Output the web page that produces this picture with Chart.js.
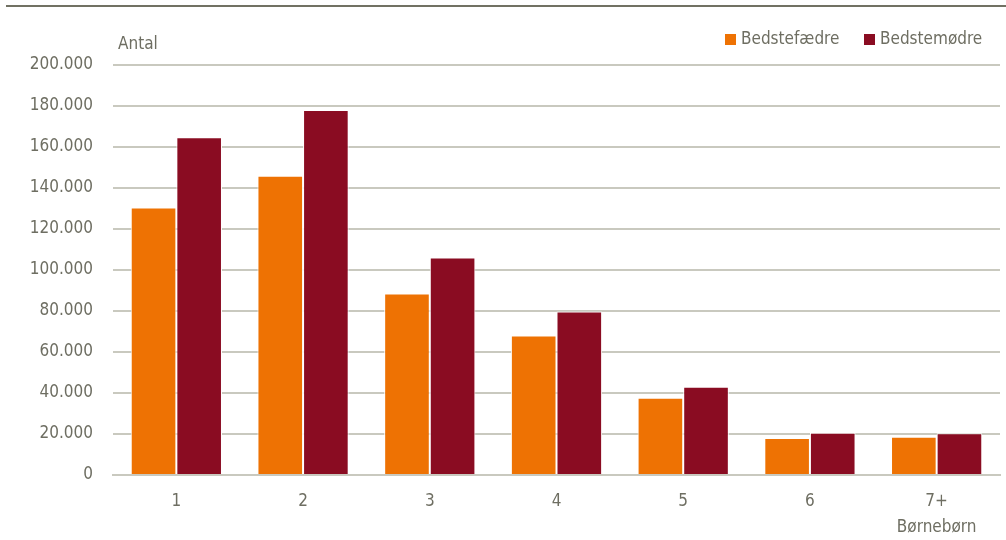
<!DOCTYPE html>
<html>
<head>
<meta charset="utf-8">
<script src="https://cdn.jsdelivr.net/npm/chart.js@4/dist/chart.umd.min.js"></script>
<style>
  html, body { margin: 0; padding: 0; background: #fff; }
  #wrap { width: 1006px; height: 540px; }
</style>
</head>
<body>
<div id="wrap"><canvas id="c" width="1006" height="540"></canvas></div>
<script>
const categories = ['1', '2', '3', '4', '5', '6', ['7+', 'Børnebørn']];
const bedstefaedre = [130500, 146000, 88500, 68000, 37700, 18100, 18600];
const bedstemoedre = [164800, 178000, 106100, 79700, 43000, 20600, 20400];
const yTicks = [0, 20000, 40000, 60000, 80000, 100000, 120000, 140000, 160000, 180000, 200000];

const FONT = "'Liberation Sans Narrow', 'DejaVu Sans Condensed', 'Arial Narrow', sans-serif";
const TEXT = '#6e6e62';
const GRID = '#c9c9bf';

function fmt(v) {
  return String(v).replace(/\B(?=(\d{3})+(?!\d))/g, '.');
}

// legend item positions (box left x)
const legendX = [725, 864];

const extras = {
  id: 'extras',
  afterDraw(chart) {
    const ctx = chart.ctx;
    ctx.save();
    // top rule
    ctx.fillStyle = '#717163';
    ctx.fillRect(6, 5, 1000, 2);
    ctx.fillStyle = TEXT;
    ctx.font = '17px ' + FONT;
    ctx.textBaseline = 'middle';
    ctx.textAlign = 'left';
    // "Antal" label above the axis
    ctx.fillText('Antal', 118, 45);
    // legend
    chart.data.datasets.forEach((ds, i) => {
      ctx.fillStyle = ds.backgroundColor;
      ctx.fillRect(legendX[i], 34, 11, 11);
      ctx.fillStyle = TEXT;
      ctx.fillText(ds.label, legendX[i] + 16, 40);
    });
    ctx.restore();
  }
};

new Chart(document.getElementById('c'), {
  type: 'bar',
  data: {
    labels: categories,
    datasets: [
      { label: 'Bedstefædre', data: bedstefaedre, backgroundColor: '#ee7203', borderColor: '#ffffff', borderWidth: 1, borderSkipped: 'bottom' },
      { label: 'Bedstemødre', data: bedstemoedre, backgroundColor: '#8a0c22', borderColor: '#ffffff', borderWidth: 1, borderSkipped: 'bottom' }
    ]
  },
  options: {
    responsive: false,
    animation: false,
    layout: { padding: { top: 65, right: 6, left: 0, bottom: 0 } },
    datasets: { bar: { categoryPercentage: 0.72, barPercentage: 1 } },
    plugins: {
      legend: { display: false },
      tooltip: { enabled: false }
    },
    scales: {
      x: {
        afterFit(scale) { scale.height = 65; },
        grid: { display: false, drawTicks: false },
        border: { display: true, color: GRID, width: 2 },
        ticks: { color: TEXT, font: { family: FONT, size: 17, lineHeight: 1.5 }, padding: 14, maxRotation: 0 }
      },
      y: {
        min: 0,
        max: 200000,
        afterBuildTicks(scale) { scale.ticks = yTicks.map(v => ({ value: v })); },
        afterFit(scale) { scale.width = 113; },
        grid: { color: GRID, lineWidth: 2, drawTicks: false },
        border: { display: false },
        ticks: { color: TEXT, font: { family: FONT, size: 17 }, padding: 20, callback: v => fmt(v) }
      }
    }
  },
  plugins: [extras]
});
</script>
</body>
</html>
